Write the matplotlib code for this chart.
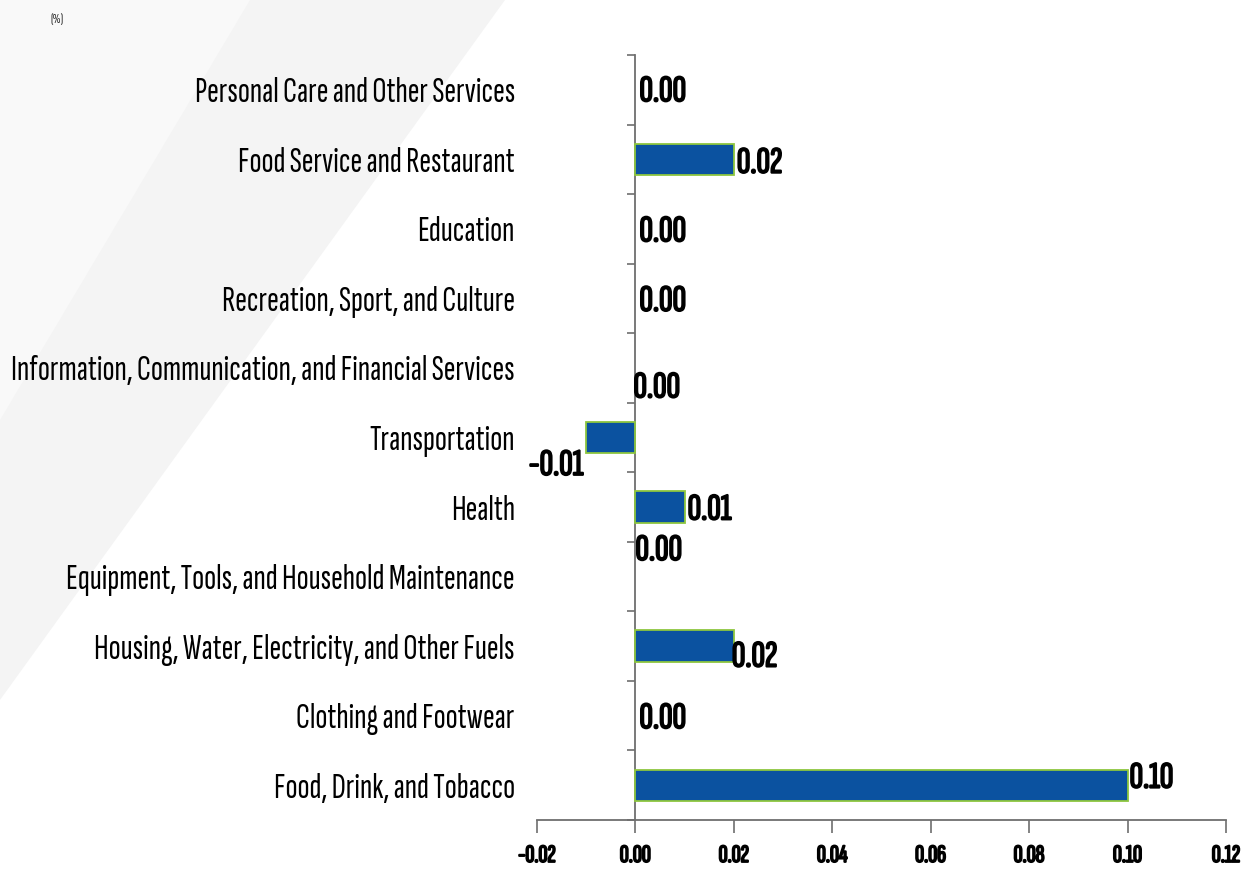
import matplotlib
matplotlib.use("Agg")
import matplotlib.pyplot as plt
from matplotlib.patches import Polygon
from matplotlib import font_manager
import matplotlib.patheffects as pe

# ---------------- data (bottom to top) ----------------
categories = [
    "Food, Drink, and Tobacco",
    "Clothing and Footwear",
    "Housing, Water, Electricity, and Other Fuels",
    "Equipment, Tools, and Household Maintenance",
    "Health",
    "Transportation",
    "Information, Communication, and Financial Services",
    "Recreation, Sport, and Culture",
    "Education",
    "Food Service and Restaurant",
    "Personal Care and Other Services",
]
values = [0.10, 0.00, 0.02, 0.00, 0.01, -0.01, 0.00, 0.00, 0.00, 0.02, 0.00]
x_ticks = [-0.02, 0.00, 0.02, 0.04, 0.06, 0.08, 0.10, 0.12]
unit_label = "(%)"

# label placement tweaks (pixels; dy positive = downward)
label_dx_px = [2, 4, -2, 0, 3, -3, -2, 4, 4, 3, 4]
label_dy_px = [-7, 3, 11, -26, 3, 28, 20, 3, 3, 4, 2]

# ---------------- fonts ----------------
entries = font_manager.fontManager.ttflist
avail = {f.name for f in entries}
FONT = "DejaVu Sans"
for cand in ["Sofia Sans Extra Condensed", "Saira Extra Condensed", "Sofia Sans Condensed",
             "Liberation Sans Narrow", "Archivo Narrow"]:
    if cand in avail:
        FONT = cand
        break
has_bold = any(f.name == FONT and (f.weight if isinstance(f.weight, int) else 400) >= 600
               for f in entries)
plt.rcParams["font.family"] = [FONT, "DejaVu Sans"]
bold_fx = [] if has_bold else [pe.withStroke(linewidth=1.3, foreground="black")]

BAR = "#0B52A0"
EDGE = "#8DC63F"
AXC = "#6e6e6e"
DPI = 100
W, H = 1248, 873

fig = plt.figure(figsize=(W / DPI, H / DPI), dpi=DPI)
fig.patch.set_facecolor("white")

# faint background decoration (behind everything)
fig.patches.append(Polygon([(0, 1), (505 / W, 1), (0, 1 - 700 / H)], closed=True,
                           transform=fig.transFigure, facecolor="#f4f4f4",
                           edgecolor="none", zorder=-10))
fig.patches.append(Polygon([(0, 1), (250 / W, 1), (0, 1 - 420 / H)], closed=True,
                           transform=fig.transFigure, facecolor="#f9f9f9",
                           edgecolor="none", zorder=-9))

ax = fig.add_axes([537 / W, 1 - 820 / H, (1226 - 537) / W, (820 - 55) / H])
ax.set_facecolor("none")
ax.set_zorder(1)

ypos = list(range(len(categories)))
edge_colors = [EDGE if v != 0 else "none" for v in values]
ax.barh(ypos, values, height=0.45, color=BAR, edgecolor=edge_colors, linewidth=1.3, zorder=3)

ax.set_xlim(x_ticks[0], x_ticks[-1])
ax.set_ylim(-0.5, len(categories) - 0.5)

# x axis
ax.set_xticks(x_ticks)
ax.set_xticklabels([f"{t:.2f}" for t in x_ticks], fontsize=18, fontweight="bold")
for t in ax.get_xticklabels():
    t.set_path_effects(bold_fx)
ax.tick_params(axis="x", direction="out", length=9, width=1.2, color=AXC, pad=9)
ax.spines["bottom"].set_color(AXC)
ax.spines["bottom"].set_linewidth(1.3)
for s in ["top", "right", "left"]:
    ax.spines[s].set_visible(False)

# y labels at the left edge of the axes
ax.set_yticks(ypos)
ax.set_yticklabels(categories, fontsize=25.5)
ax.tick_params(axis="y", length=0, pad=16)

# y axis line at x = 0 with boundary ticks
xmin, xmax = ax.get_xlim()
loc = (0 - xmin) / (xmax - xmin)
sec = ax.secondary_yaxis(loc)
sec.set_yticks([i - 0.5 for i in range(len(categories) + 1)])
sec.set_yticklabels([])
sec.tick_params(axis="y", direction="out", length=6, width=1.2, color=AXC)
sec.spines["left"].set_color(AXC)
sec.spines["left"].set_linewidth(1.3)

# value labels
for i, v in enumerate(values):
    ha = "right" if v < 0 else "left"
    ax.annotate(f"{v:.2f}", xy=(v, i), xytext=(label_dx_px[i] * 0.72, -label_dy_px[i] * 0.72),
                textcoords="offset points", ha=ha, va="center",
                fontsize=27, fontweight="bold", color="black", zorder=5,
                path_effects=bold_fx)

fig.text(50 / W, 1 - 20 / H, unit_label, fontsize=10, ha="left", va="center", color="#333333")

fig.savefig("out.png", dpi=DPI, facecolor=fig.get_facecolor())
